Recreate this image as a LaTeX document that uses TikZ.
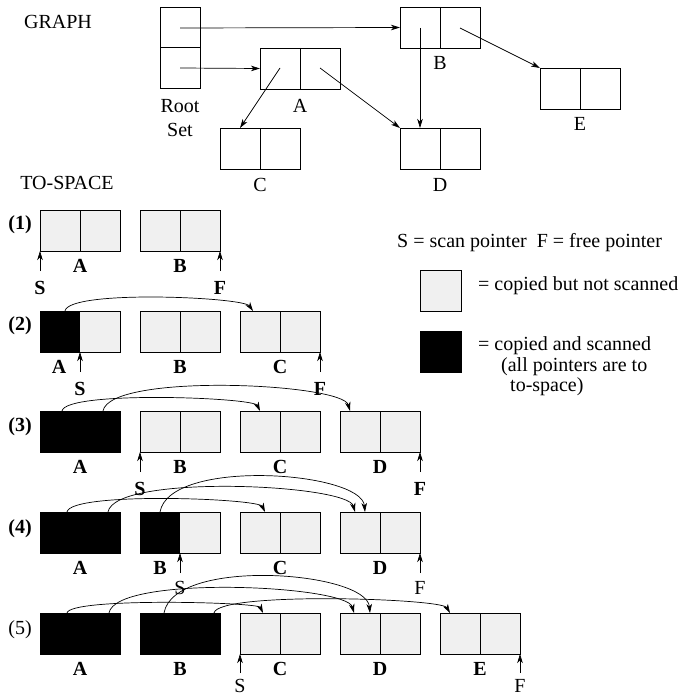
\documentclass[tikz,border=0pt]{standalone}
\usepackage{fontspec}
\setmainfont{Liberation Serif}
\usetikzlibrary{arrows.meta}
\definecolor{boxgray}{HTML}{F0F0F0}
\newcommand\twocell[3]{\node[#1] (#2) at (#3) {}; \draw[line width=0.8pt] (#2.north) -- (#2.south);}
\newcommand\halfblack[2]{\node[gcell] (#1) at (#2) {}; \fill[black] (#1.north west) rectangle (#1.south);}
\begin{document}
\begin{tikzpicture}[x=1pt,y=-1pt,
  every node/.style={font=\fontsize{20}{23}\selectfont, inner sep=0pt},
  cell/.style={draw=black, line width=0.8pt, minimum width=80pt, minimum height=41pt, anchor=north west, outer sep=0pt},
  wcell/.style={cell, fill=white},
  gcell/.style={cell, fill=boxgray},
  bcell/.style={cell, fill=black},
  lbl/.style={font=\fontsize{20}{23}\selectfont\bfseries},
  ptr/.style={-{Stealth[length=9pt,width=5.5pt,inset=2.5pt]}, line width=0.7pt},
]
\useasboundingbox (0,0) rectangle (682,698);

% ---------------- GRAPH ----------------
\node (graph) at (58,22) {GRAPH};
\node[cell, minimum width=40pt, minimum height=81pt] (root) at (160,7) {};
\draw[line width=0.8pt] (root.west) -- (root.east);
\node (roott) at (180,106) {Root};
\node (rootb) at (180,130) {Set};
\twocell{wcell}{gA}{260,48}
\twocell{wcell}{gB}{400,7}
\twocell{wcell}{gE}{540,68}
\twocell{wcell}{gD}{400,128}
\twocell{wcell}{gC}{220,128}
\node (lA) at (300,106) {A};
\node (lB) at (440,63) {B};
\node (lE) at (580,124) {E};
\node (lC) at (260,185) {C};
\node (lD) at (440,185) {D};
\coordinate (r1) at (180,28);
\coordinate (r2) at (180,68);
\coordinate (a1) at (280,68);
\coordinate (a2) at (320,68);
\coordinate (b1) at (420,28);
\coordinate (b2) at (460,28);
\coordinate (cin) at (240,128);
\coordinate (din) at (420,128);
\draw[ptr] (r1) -- (gB.west);
\draw[ptr] (r2) -- (gA.west);
\draw[ptr] (a1) -- (cin);
\draw[ptr] (a2) -- (gD.north west);
\draw[ptr] (b1) -- (din);
\draw[ptr] (b2) -- (gE.north west);

\node (tospace) at (67,183) {TO-SPACE};

% ---------------- Legend ----------------
\node[anchor=west] (leg0) at (397,243) {S = scan pointer\ \ F = free pointer};
\node[gcell, minimum width=41pt] (legg) at (420,270) {};
\node[anchor=west] (leg1) at (478,286) {= copied but not scanned};
\node[bcell, minimum width=41pt] (legb) at (420,331) {};
\node[anchor=west] (leg2) at (478,346) {= copied and scanned};
\node[anchor=west] (leg3) at (501,367) {(all pointers are to};
\node[anchor=west] (leg4) at (510,387) {to-space)};

% ---------------- Row 1 ----------------
\node[lbl] (n1) at (20,225) {(1)};
\twocell{gcell}{r1a}{40,210}
\twocell{gcell}{r1b}{140,210}
\node[lbl] (r1la) at (80,266) {A};
\node[lbl] (r1lb) at (180,266) {B};
\node[lbl] (r1s) at (40,288) {S};
\node[lbl] (r1f) at (220,288) {F};
\coordinate (r1st) at (40,271);
\coordinate (r1ft) at (220,271);
\draw[ptr] (r1st) -- (r1a.south west);
\draw[ptr] (r1ft) -- (r1b.south east);

% ---------------- Row 2 ----------------
\node[lbl] (n2) at (20,326) {(2)};
\halfblack{r2a}{40,311}
\draw[line width=0.8pt] (r2a.north west) rectangle (r2a.south east);
\twocell{gcell}{r2b}{140,311}
\twocell{gcell}{r2c}{240,311}
\node[lbl] (r2la) at (59,367) {A};
\node[lbl] (r2lb) at (180,367) {B};
\node[lbl] (r2lc) at (280,367) {C};
\node[lbl] (r2s) at (80,389) {S};
\node[lbl] (r2f) at (320,389) {F};
\coordinate (r2st) at (80,372);
\coordinate (r2ft) at (320,372);
\draw[ptr] (r2st) -- (r2a.south);
\draw[ptr] (r2ft) -- (r2c.south east);
\coordinate (h2a) at (65,311);
\coordinate (h2c) at (253,311);
\draw[ptr] (h2a) to[out=80,in=125,out distance=22pt,in distance=17pt] (h2c);

% ---------------- Row 3 ----------------
\node[lbl] (n3) at (20,427) {(3)};
\node[bcell] (r3a) at (40,411) {};
\twocell{gcell}{r3b}{140,411}
\twocell{gcell}{r3c}{240,411}
\twocell{gcell}{r3d}{340,411}
\node[lbl] (r3la) at (80,467) {A};
\node[lbl] (r3lb) at (180,467) {B};
\node[lbl] (r3lc) at (280,467) {C};
\node[lbl] (r3ld) at (380,467) {D};
\node[lbl] (r3s) at (140,489) {S};
\node[lbl] (r3f) at (420,489) {F};
\coordinate (r3st) at (140,472);
\coordinate (r3ft) at (420,472);
\draw[ptr] (r3st) -- (r3b.south west);
\draw[ptr] (r3ft) -- (r3d.south east);
\coordinate (h3a1) at (62,411);
\coordinate (h3a2) at (103,411);
\coordinate (h3c) at (260,411);
\coordinate (h3d) at (350,411);
\draw[ptr] (h3a1) to[out=80,in=115,out distance=21pt,in distance=15pt] (h3c);
\draw[ptr] (h3a2) to[out=80,in=105,out distance=39pt,in distance=29pt] (h3d);

% ---------------- Row 4 ----------------
\node[lbl] (n4) at (20,529) {(4)};
\node[bcell] (r4a) at (40,512) {};
\halfblack{r4b}{140,512}
\draw[line width=0.8pt] (r4b.north west) rectangle (r4b.south east);
\twocell{gcell}{r4c}{240,512}
\twocell{gcell}{r4d}{340,512}
\node[lbl] (r4la) at (80,568) {A};
\node[lbl] (r4lb) at (160,568) {B};
\node[lbl] (r4lc) at (280,568) {C};
\node[lbl] (r4ld) at (380,568) {D};
\node (r4s) at (180,588) {S};
\node (r4f) at (420,588) {F};
\coordinate (r4st) at (180,573);
\coordinate (r4ft) at (420,573);
\draw[ptr] (r4st) -- (r4b.south);
\draw[ptr] (r4ft) -- (r4d.south east);
\coordinate (h4a1) at (67,512);
\coordinate (h4a2) at (108,512);
\coordinate (h4b1) at (160,512);
\coordinate (h4c) at (265,512);
\coordinate (h4d1) at (355,512);
\coordinate (h4d2) at (365,512);
\draw[ptr] (h4a1) to[out=80,in=115,out distance=21pt,in distance=15pt] (h4c);
\draw[ptr] (h4a2) to[out=80,in=105,out distance=39pt,in distance=29pt] (h4d1);
\draw[ptr] (h4b1) to[out=80,in=95,out distance=55pt,in distance=41pt] (h4d2);

% ---------------- Row 5 ----------------
\node (n5) at (20,630) {(5)};
\node[bcell] (r5a) at (40,613) {};
\node[bcell] (r5b) at (140,613) {};
\twocell{gcell}{r5c}{240,613}
\twocell{gcell}{r5d}{340,613}
\twocell{gcell}{r5e}{440,613}
\node[lbl] (r5la) at (80,669) {A};
\node[lbl] (r5lb) at (180,669) {B};
\node[lbl] (r5lc) at (280,669) {C};
\node[lbl] (r5ld) at (380,669) {D};
\node[lbl] (r5le) at (480,669) {E};
\node (r5s) at (240,686) {S};
\node (r5f) at (520,686) {F};
\coordinate (r5st) at (240,673);
\coordinate (r5ft) at (520,673);
\draw[ptr] (r5st) -- (r5c.south west);
\draw[ptr] (r5ft) -- (r5e.south east);
\coordinate (h5a1) at (67,613);
\coordinate (h5a2) at (109,613);
\coordinate (h5b1) at (164,613);
\coordinate (h5b2) at (214,613);
\coordinate (h5c) at (263,613);
\coordinate (h5d1) at (354,613);
\coordinate (h5d2) at (370,613);
\coordinate (h5e) at (450,613);
\draw[ptr] (h5a1) to[out=80,in=115,out distance=16pt,in distance=12pt] (h5c);
\draw[ptr] (h5a2) to[out=80,in=105,out distance=39pt,in distance=29pt] (h5d1);
\draw[ptr] (h5b1) to[out=80,in=95,out distance=57pt,in distance=42pt] (h5d2);
\draw[ptr] (h5b2) to[out=80,in=120,out distance=22pt,in distance=17pt] (h5e);
\end{tikzpicture}
\end{document}
